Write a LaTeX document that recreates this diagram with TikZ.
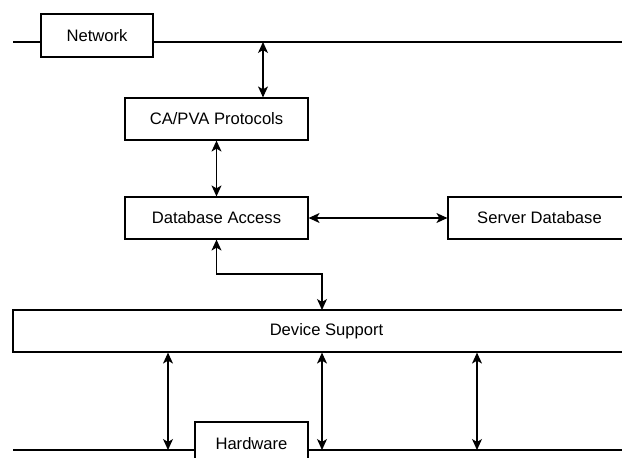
\documentclass[tikz,border=0pt]{standalone}
\usepackage{fontspec}
\setmainfont{Liberation Sans}
\usetikzlibrary{arrows.meta}
\begin{document}
\begin{tikzpicture}[x=1pt,y=-1pt,
  box/.style={draw,line width=1.2pt,fill=white,inner sep=0pt,font=\fontsize{16.6}{19}\selectfont},
  wire/.style={line width=1.2pt},
  tipst/.style={Stealth[length=11pt,width=10pt,inset=3pt]},
  arr/.style={line width=1.2pt,{Stealth[length=11pt,width=10pt,inset=3pt]}-{Stealth[length=11pt,width=10pt,inset=3pt]}}]
\useasboundingbox (0,0) rectangle (622,458);
% network line
\coordinate (netL) at (13,42);
\coordinate (netR) at (640,42);
\draw[wire] (netL) -- (netR);
\node[box,minimum width=112pt,minimum height=43pt] (net) at (97,35.5) {Network};
% hardware line
\coordinate (hwL) at (13,450);
\coordinate (hwR) at (640,450);
\draw[wire] (hwL) -- (hwR);
\node[box,minimum width=113pt,minimum height=43pt] (hw) at (251.5,443.5) {Hardware};
% boxes
\node[box,minimum width=183pt,minimum height=42pt] (ca) at (216.5,119) {CA/PVA Protocols};
\node[box,minimum width=183pt,minimum height=42pt] (da) at (216.5,218) {Database Access};
\node[box,minimum width=183pt,minimum height=42pt] (sd) at (539.5,218) {Server Database};
\node[box,minimum width=627pt,minimum height=42pt] (ds) at (326.5,331) {Device Support};
% connectors
\coordinate (netA) at (263,42);
\draw[arr] (netA) -- (netA |- ca.north);
\draw[arr] (ca.south) -- (da.north);
\draw[arr] (da.east) -- (sd.west);
\coordinate (dsin) at (322,310);
\draw[arr] (da.south) -- (da.south |- 0,274) -| (dsin);
\coordinate (h1) at (168,450);
\coordinate (h2) at (322,450);
\coordinate (h3) at (477,450);
\draw[arr] (h1 |- ds.south) -- (h1);
\draw[arr] (h2 |- ds.south) -- (h2);
\draw[arr] (h3 |- ds.south) -- (h3);
\end{tikzpicture}
\end{document}
